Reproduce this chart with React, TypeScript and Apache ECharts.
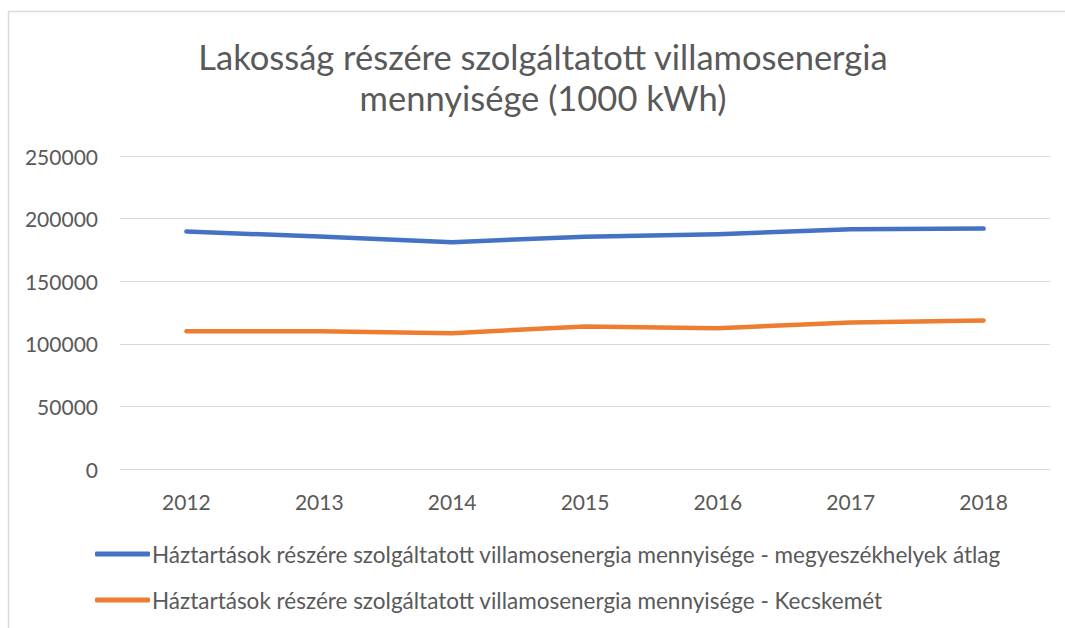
import React, { useEffect, useRef } from "react";
import * as echarts from "echarts";

const years = ["2012", "2013", "2014", "2015", "2016", "2017", "2018"];
const megyeszekhelyek = [189600, 185700, 181200, 185600, 187500, 191500, 192000];
const kecskemet = [110100, 110100, 108500, 113800, 112500, 117000, 118600];
const seriesNames = [
  "Háztartások részére szolgáltatott villamosenergia mennyisége - megyeszékhelyek átlag",
  "Háztartások részére szolgáltatott villamosenergia mennyisége - Kecskemét",
];
const titleText = "Lakosság részére szolgáltatott villamosenergia\nmennyisége (1000 kWh)";

const FONT = "Lato, 'Open Sans', sans-serif";

export default function App() {
  const ref = useRef<HTMLDivElement>(null);
  useEffect(() => {
    const chart = echarts.init(ref.current!, null, { renderer: "svg" });
    chart.setOption({
      animation: false,
      backgroundColor: "#ffffff",
      textStyle: { fontFamily: FONT },
      title: {
        text: titleText,
        left: 543,
        textAlign: "center",
        top: 36,
        padding: 0,
        textStyle: {
          fontFamily: FONT,
          fontSize: 34.5,
          fontWeight: "normal",
          color: "#595959",
          lineHeight: 41,
        },
      },
      graphic: [
        {
          type: "rect",
          shape: { x: 8.5, y: 11.5, width: 1200, height: 800 },
          style: { fill: "none", stroke: "#d9d9d9", lineWidth: 1.5 },
          silent: true,
        },
      ],
      grid: { left: 120, right: 15, top: 156, bottom: 159, containLabel: false },
      xAxis: {
        type: "category",
        data: years,
        boundaryGap: true,
        axisLine: { show: true, lineStyle: { color: "#d9d9d9", width: 1 } },
        axisTick: { show: false },
        axisLabel: { color: "#595959", fontSize: 21, margin: 22, fontFamily: FONT },
      },
      yAxis: {
        type: "value",
        min: 0,
        max: 250000,
        interval: 50000,
        axisLine: { show: false },
        axisTick: { show: false },
        splitLine: { lineStyle: { color: "#d9d9d9", width: 1 } },
        axisLabel: {
          color: "#595959",
          fontSize: 21,
          margin: 22,
          fontFamily: FONT,
          formatter: (v: number) => String(v),
        },
      },
      legend: {
        orient: "vertical",
        left: 95,
        top: 542,
        padding: 0,
        icon: "roundRect",
        itemWidth: 55,
        itemHeight: 5,
        itemGap: 22,
        textStyle: {
          color: "#595959",
          fontSize: 22.5,
          fontFamily: FONT,
          lineHeight: 24,
          padding: [0, 0, 0, -3],
        },
        data: seriesNames,
      },
      series: [
        {
          name: seriesNames[0],
          type: "line",
          data: megyeszekhelyek,
          symbol: "none",
          lineStyle: { color: "#4472C4", width: 4.5, cap: "round", join: "round" },
          itemStyle: { color: "#4472C4" },
        },
        {
          name: seriesNames[1],
          type: "line",
          data: kecskemet,
          symbol: "none",
          lineStyle: { color: "#ED7D31", width: 4.5, cap: "round", join: "round" },
          itemStyle: { color: "#ED7D31" },
        },
      ],
    });
    return () => chart.dispose();
  }, []);
  return (
    <div
      ref={ref}
      style={{ position: "absolute", left: 0, top: 0, width: 1065, height: 628 }}
    />
  );
}
